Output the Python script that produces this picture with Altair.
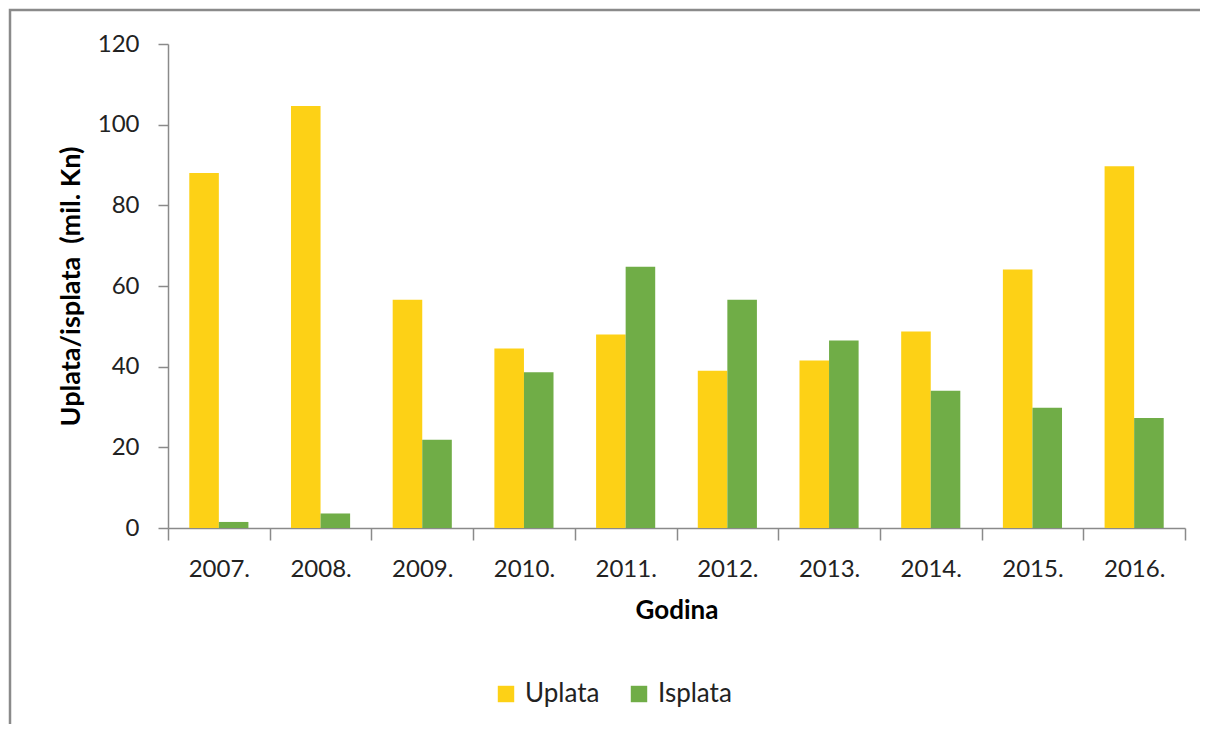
import altair as alt
import pandas as pd

years = ["2007.", "2008.", "2009.", "2010.", "2011.", "2012.", "2013.", "2014.", "2015.", "2016."]
uplata = [88.0, 104.6, 56.6, 44.5, 48.0, 39.0, 41.5, 48.7, 64.1, 89.7]
isplata = [1.5, 3.6, 21.9, 38.6, 64.8, 56.6, 46.5, 34.0, 29.8, 27.3]
series = ["Uplata", "Isplata"]
colors = ["#FDD116", "#70AD47"]

rows = []
for i, y in enumerate(years):
    rows.append({"Godina": y, "Serija": "Uplata", "Vrijednost": uplata[i]})
    rows.append({"Godina": y, "Serija": "Isplata", "Vrijednost": isplata[i]})
df = pd.DataFrame(rows)

FONT = "Lato"
W, H = 1017, 484

bars = alt.Chart(df).mark_bar().encode(
    x=alt.X("Godina:N", sort=years,
            scale=alt.Scale(paddingInner=0, paddingOuter=0),
            axis=alt.Axis(title="Godina", labelAngle=0, tickBand="extent",
                          tickSize=12, labelPadding=17, titlePadding=16,
                          titleFontSize=26)),
    xOffset=alt.XOffset("Serija:N", sort=series,
                        scale=alt.Scale(paddingInner=0, paddingOuter=0.72)),
    y=alt.Y("Vrijednost:Q",
            scale=alt.Scale(domain=[0, 120], nice=False),
            axis=alt.Axis(title="Uplata/isplata\u00a0 (mil. Kn)", values=[0, 20, 40, 60, 80, 100, 120],
                          tickSize=10, labelPadding=19, titlePadding=12, grid=False,
                          titleFontSize=27)),
    color=alt.Color("Serija:N", sort=series,
                    scale=alt.Scale(domain=series, range=colors),
                    legend=alt.Legend(title=None, orient="none", direction="horizontal",
                                      legendX=325, legendY=637, symbolType="square",
                                      symbolSize=270, symbolStrokeWidth=0,
                                      labelFontSize=26, labelFont=FONT, labelColor="#222222",
                                      columnPadding=26, labelOffset=6)),
)

frame = alt.Chart(pd.DataFrame({"a": [0]})).mark_rect(
    fill=None, stroke="#8A8A8A", strokeWidth=2.5, clip=False
).encode(
    x=alt.value(-158), x2=alt.value(W + 200),
    y=alt.value(-34), y2=alt.value(H + 400)
)

chart = alt.layer(frame, bars).properties(
    width=W, height=H,
    padding={"left": 160, "top": 36, "right": 15, "bottom": 196},
    autosize=alt.AutoSizeParams(type="none"),
).configure_view(stroke=None).configure_axis(
    labelFont=FONT, titleFont=FONT, labelFontSize=24, titleFontSize=26,
    labelColor="#222222", titleColor="#000000", titleFontWeight="bold",
    domainColor="#8A8A8A", tickColor="#8A8A8A", domainWidth=1.5, tickWidth=1.5,
)

chart.save("out.html", embed_options={"renderer": "svg", "actions": False})
